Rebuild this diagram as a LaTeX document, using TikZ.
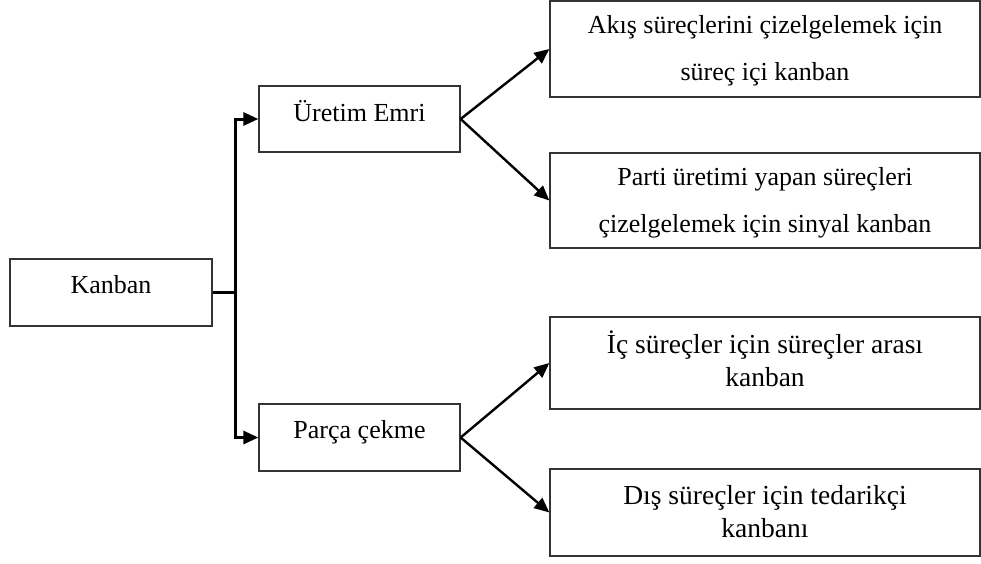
\documentclass[tikz,border=0pt]{standalone}
\usepackage{fontspec}
\setmainfont{Liberation Serif}
\usetikzlibrary{arrows.meta}
\begin{document}
\begin{tikzpicture}[x=1pt,y=-1pt,
  box/.style={draw=black!80, line width=1.3pt, fill=white, inner sep=0pt, align=center, text depth=0pt},
  small/.style={box, font=\fontsize{26}{46.5}\selectfont},
  large/.style={box, font=\fontsize{27.5}{32.5}\selectfont},
  tip/.style={-{Triangle[length=15pt,width=13pt]}},
  bracket/.style={tip, line width=3pt, line join=miter},
  branch/.style={tip, line width=2.4pt}]
\useasboundingbox (0,0) rectangle (981,563);

% root and the two kinds of kanban
\node[small, minimum width=202, minimum height=67, text height=1pt] (kanban) at (111,292.5) {Kanban};
\node[small, minimum width=201, minimum height=66, text height=4pt] (uretim) at (359.5,119) {Üretim Emri};
\node[small, minimum width=201, minimum height=67, text height=2pt] (parca) at (359.5,437.5) {Parça çekme};

% leaf boxes
\node[small, minimum width=430, minimum height=96, text height=62pt] (akis) at (765,49)
  {Akış süreçlerini çizelgelemek için\\süreç içi kanban};
\node[small, minimum width=430, minimum height=95, text height=63pt] (parti) at (765,200.5)
  {Parti üretimi yapan süreçleri\\çizelgelemek için sinyal kanban};
\node[large, minimum width=430, minimum height=92, text height=46pt] (ic) at (765,363)
  {İç süreçler için süreçler arası\\kanban};
\node[large, minimum width=430, minimum height=87, text height=49pt] (dis) at (765,512.5)
  {Dış süreçler için tedarikçi\\kanbanı};

% bracket from the root
\coordinate (j) at (235,292.5);
\draw[bracket] (kanban.east) -- (j) |- (uretim.west);
\draw[bracket] (kanban.east) -- (j) |- (parca.west);

% diagonal branches
\draw[branch] (uretim.east) -- (akis.west);
\draw[branch] (uretim.east) -- (parti.west);
\draw[branch] (parca.east) -- (ic.west);
\draw[branch] (parca.east) -- (dis.west);
\end{tikzpicture}
\end{document}
